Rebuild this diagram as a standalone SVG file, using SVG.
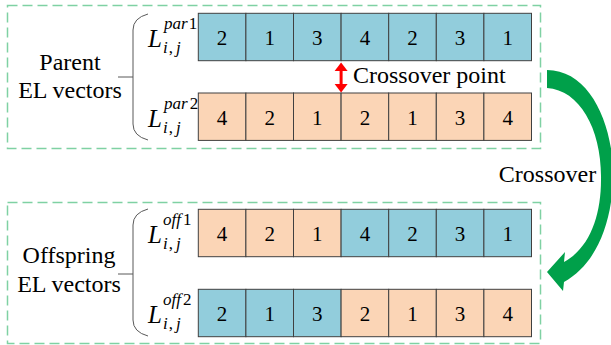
<svg xmlns="http://www.w3.org/2000/svg" width="611" height="345" viewBox="0 0 611 345">
<style>
.box{fill:none;stroke:#7fd1a3;stroke-width:1.5;stroke-dasharray:10 5}
.b{fill:#92cddc;stroke:#404040;stroke-width:1}
.o{fill:#fbd5b6;stroke:#404040;stroke-width:1}
.br{fill:none;stroke:#595959;stroke-width:1}
.tx{font-family:"Liberation Serif",Tinos,"Times New Roman","DejaVu Serif",serif;font-size:24px}
.dg{font-family:"Liberation Serif",Tinos,"Times New Roman","DejaVu Serif",serif;font-size:21px;text-anchor:middle}
.L{font-family:"Liberation Serif",Tinos,"Times New Roman","DejaVu Serif",serif;font-size:25px;font-style:italic}
.s{font-family:"Liberation Serif",Tinos,"Times New Roman","DejaVu Serif",serif;font-size:17px;font-style:italic}
.n{font-style:normal}
</style>
<g id="parent">
<rect class="box" x="7.5" y="5.5" width="533" height="143"/>
<text class="tx" x="70" y="70" text-anchor="middle">Parent</text>
<text class="tx" x="70" y="98" text-anchor="middle">EL vectors</text>
<path class="br" d="M148,14 Q133,18 133,30 L133,124 Q133,136 148,140 M118,77 L133,77"/>
</g>
<g id="par1">
<text class="L" x="148" y="47">L</text>
<text class="s" x="164" y="29">par<tspan class="n" dx="1">1</tspan></text>
<text class="s" x="163" y="53">i<tspan class="n" dx="1">,</tspan><tspan dx="3">j</tspan></text>
<rect class="b" x="198.3" y="13.3" width="47.6" height="47.4"/>
<rect class="b" x="245.9" y="13.3" width="47.6" height="47.4"/>
<rect class="b" x="293.5" y="13.3" width="47.6" height="47.4"/>
<rect class="b" x="341.1" y="13.3" width="47.6" height="47.4"/>
<rect class="b" x="388.7" y="13.3" width="47.6" height="47.4"/>
<rect class="b" x="436.3" y="13.3" width="47.6" height="47.4"/>
<rect class="b" x="483.9" y="13.3" width="47.6" height="47.4"/>
<text class="dg" x="222.1" y="45">2</text>
<text class="dg" x="269.7" y="45">1</text>
<text class="dg" x="317.3" y="45">3</text>
<text class="dg" x="364.9" y="45">4</text>
<text class="dg" x="412.5" y="45">2</text>
<text class="dg" x="460.1" y="45">3</text>
<text class="dg" x="507.7" y="45">1</text>
</g>
<g id="par2">
<text class="L" x="148" y="127">L</text>
<text class="s" x="164" y="109">par<tspan class="n" dx="2">2</tspan></text>
<text class="s" x="163" y="133">i<tspan class="n" dx="1">,</tspan><tspan dx="3">j</tspan></text>
<rect class="o" x="198.3" y="93" width="47.6" height="47.4"/>
<rect class="o" x="245.9" y="93" width="47.6" height="47.4"/>
<rect class="o" x="293.5" y="93" width="47.6" height="47.4"/>
<rect class="o" x="341.1" y="93" width="47.6" height="47.4"/>
<rect class="o" x="388.7" y="93" width="47.6" height="47.4"/>
<rect class="o" x="436.3" y="93" width="47.6" height="47.4"/>
<rect class="o" x="483.9" y="93" width="47.6" height="47.4"/>
<text class="dg" x="222.1" y="124.5">4</text>
<text class="dg" x="269.7" y="124.5">2</text>
<text class="dg" x="317.3" y="124.5">1</text>
<text class="dg" x="364.9" y="124.5">2</text>
<text class="dg" x="412.5" y="124.5">1</text>
<text class="dg" x="460.1" y="124.5">3</text>
<text class="dg" x="507.7" y="124.5">4</text>
</g>
<g id="crosspoint">
<path d="M341.1,68 L341.1,87" stroke="#ff0000" stroke-width="3"/>
<polygon points="341.1,62.5 347.6,71 334.6,71" fill="#ff0000"/>
<polygon points="341.1,92.5 347.6,84 334.6,84" fill="#ff0000"/>
<text class="tx" x="353" y="83">Crossover point</text>
</g>
<g id="offspring">
<rect class="box" x="7.5" y="202.5" width="533" height="141"/>
<text class="tx" x="69" y="263" text-anchor="middle">Offspring</text>
<text class="tx" x="69" y="292" text-anchor="middle">EL vectors</text>
<path class="br" d="M148,209 Q133,213 133,225 L133,320 Q133,332 148,336 M118,274 L133,274"/>
</g>
<g id="off1">
<text class="L" x="148" y="243">L</text>
<text class="s" x="163" y="225">off<tspan class="n" dx="2">1</tspan></text>
<text class="s" x="163" y="249">i<tspan class="n" dx="1">,</tspan><tspan dx="3">j</tspan></text>
<rect class="o" x="198.3" y="209.3" width="47.6" height="47.4"/>
<rect class="o" x="245.9" y="209.3" width="47.6" height="47.4"/>
<rect class="o" x="293.5" y="209.3" width="47.6" height="47.4"/>
<rect class="b" x="341.1" y="209.3" width="47.6" height="47.4"/>
<rect class="b" x="388.7" y="209.3" width="47.6" height="47.4"/>
<rect class="b" x="436.3" y="209.3" width="47.6" height="47.4"/>
<rect class="b" x="483.9" y="209.3" width="47.6" height="47.4"/>
<text class="dg" x="222.1" y="241">4</text>
<text class="dg" x="269.7" y="241">2</text>
<text class="dg" x="317.3" y="241">1</text>
<text class="dg" x="364.9" y="241">4</text>
<text class="dg" x="412.5" y="241">2</text>
<text class="dg" x="460.1" y="241">3</text>
<text class="dg" x="507.7" y="241">1</text>
</g>
<g id="off2">
<text class="L" x="148" y="323">L</text>
<text class="s" x="163" y="305">off<tspan class="n" dx="2">2</tspan></text>
<text class="s" x="163" y="329">i<tspan class="n" dx="1">,</tspan><tspan dx="3">j</tspan></text>
<rect class="b" x="198.3" y="289.3" width="47.6" height="47.4"/>
<rect class="b" x="245.9" y="289.3" width="47.6" height="47.4"/>
<rect class="b" x="293.5" y="289.3" width="47.6" height="47.4"/>
<rect class="o" x="341.1" y="289.3" width="47.6" height="47.4"/>
<rect class="o" x="388.7" y="289.3" width="47.6" height="47.4"/>
<rect class="o" x="436.3" y="289.3" width="47.6" height="47.4"/>
<rect class="o" x="483.9" y="289.3" width="47.6" height="47.4"/>
<text class="dg" x="222.1" y="321">2</text>
<text class="dg" x="269.7" y="321">1</text>
<text class="dg" x="317.3" y="321">3</text>
<text class="dg" x="364.9" y="321">2</text>
<text class="dg" x="412.5" y="321">1</text>
<text class="dg" x="460.1" y="321">3</text>
<text class="dg" x="507.7" y="321">4</text>
</g>
<g id="connectors">
<path d="M547,70 C590,70 614,125 613,178 C612,225 595,265 564,282 L563,291 L547,272 L565,252 L564,262 C590,248 601,215 601,180 C602,130 580,90 547,88 Z" fill="#00a04a"/>
<text class="tx" x="547.5" y="182" text-anchor="middle">Crossover</text>
</g>
</svg>
